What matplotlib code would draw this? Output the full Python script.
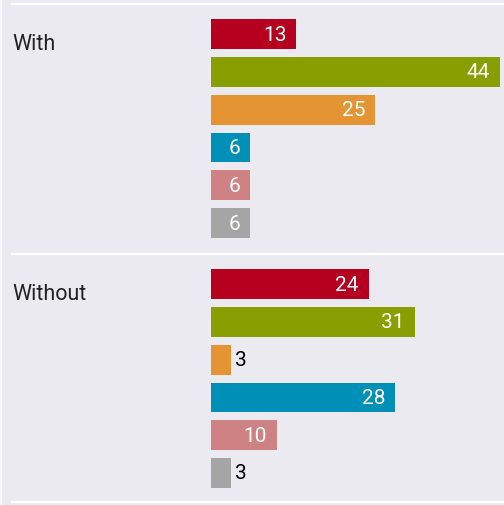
import matplotlib
matplotlib.use("Agg")
import matplotlib.pyplot as plt
from matplotlib.lines import Line2D

groups = ["With", "Without"]
values_with = [13, 44, 25, 6, 6, 6]
values_without = [24, 31, 3, 28, 10, 3]
colors = ["#b5001f", "#87a000", "#e59433", "#008fb7", "#cf8283", "#a5a5a5"]

BG = "#ebeaf1"
W, H = 504, 506
fig = plt.figure(figsize=(W / 100, H / 100), dpi=100, facecolor=BG)

def fy(px):
    return 1 - px / H

regions = [(5, 255, values_with, 5.82), (255, 503, values_without, 5.77)]
for label, (top, bot, vals, ymax) in zip(groups, regions):
    ax = fig.add_axes([211 / W, fy(bot), 1 - 211 / W, (bot - top) / H])
    ax.set_facecolor("none")
    ax.set_xlim(0, 293 / 6.57)
    ax.set_ylim(ymax, -0.80)
    ys = list(range(len(vals)))
    ax.barh(ys, vals, height=0.79, color=colors, left=0)
    for y, v in zip(ys, vals):
        if v >= 5:
            ax.text(v - 1.5, y, str(v), ha="right", va="center", color="white",
                    fontsize=15, family="Roboto")
        else:
            ax.text(v + 0.7, y, str(v), ha="left", va="center", color="black",
                    fontsize=15, family="Roboto")
    for s in ax.spines.values():
        s.set_visible(False)
    ax.set_xticks([])
    ax.set_yticks([])
    # group label: baseline aligned with bottom of first bar
    yb = top + 30 + 15
    fig.text(12 / W, fy(yb), label, ha="left", va="baseline", fontsize=15.5,
             family="Roboto", color="#222222")

for ypx in (5, 255, 503):
    fig.add_artist(Line2D([12 / W, 1], [fy(ypx), fy(ypx)], color="white", lw=1.6,
                          transform=fig.transFigure))
fig.add_artist(Line2D([0.5 / W, 0.5 / W], [0, 1], color="#f7f7fa", lw=1.5,
                      transform=fig.transFigure))

fig.savefig("out.png", dpi=100, facecolor=BG)
